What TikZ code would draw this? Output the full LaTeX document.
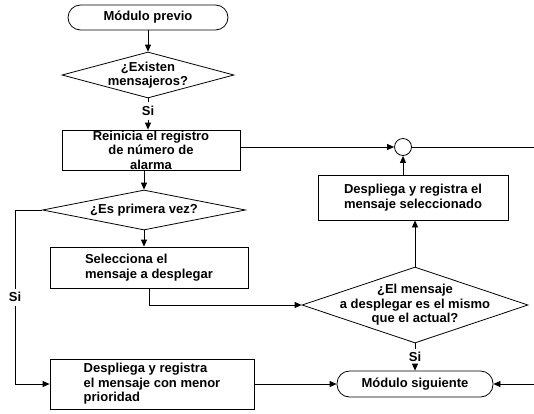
\documentclass[tikz,border=0pt]{standalone}
\usepackage{fontspec}
\setmainfont{Liberation Sans}
\usetikzlibrary{positioning, arrows.meta, shapes.geometric}

\begin{document}
\begin{tikzpicture}[x=1pt, y=-1pt, line width=0.8pt,
    font=\fontsize{13}{14.5}\selectfont\bfseries,
    caja/.style={draw, rectangle, inner sep=0pt},
    terminal/.style={draw, rectangle, rounded corners=12.5pt, inner sep=0pt},
    decision/.style={draw, diamond, inner sep=0pt},
    flecha/.style={-{Triangle[length=7pt, width=6pt]}}]

    \useasboundingbox (0,0) rectangle (534,413);

    % --- COLUMNA IZQUIERDA ---
    \node[terminal, minimum width=160, minimum height=25] (previo) at (148,17.5) {Módulo previo};
    \node[decision, minimum width=172, minimum height=46,
          label={[align=center]center:¿Existen\\mensajeros?}] (existen) at (148,75) {};
    \node (si1) at (148,111) {Si};
    \node[caja, minimum width=178, minimum height=40, align=center] (reinicia) at (151,150)
        {Reinicia el registro\\de número de\\alarma};
    \node[decision, minimum width=203, minimum height=40,
          label={center:¿Es primera vez?}] (primera) at (144,210) {};
    \node[caja, minimum width=198, minimum height=41, align=left] (selecciona) at (149,267.5)
        {Selecciona el\\mensaje a desplegar};
    \node (si2) at (15,297) {Si};
    \node[caja, minimum width=204, minimum height=50, align=left] (menor) at (152,384)
        {Despliega y registra\\el mensaje con menor\\prioridad};

    % --- COLUMNA DERECHA ---
    \node[circle, draw, minimum size=17, inner sep=0pt] (conector) at (403,147) {};
    \node[caja, minimum width=190, minimum height=45, align=left] (seleccionado) at (413,197.5)
        {Despliega y registra el\\mensaje seleccionado};
    \node[decision, minimum width=226, minimum height=76,
          label={[align=center]center:¿El mensaje\\a desplegar es el mismo\\que el actual?}] (mismo) at (415,305) {};
    \node (si3) at (415,357) {Si};
    \node[terminal, minimum width=156, minimum height=26] (siguiente) at (415,384) {Módulo siguiente};

    % Enlaces fuera de la hoja
    \coordinate (salida) at (534,147);
    \coordinate (entrada) at (534,384);

    % --- CONEXIONES ---
    \draw[flecha] (previo.south -| existen.north) -- (existen.north);
    \draw (existen.south) -- (si1.north);
    \draw[flecha] (si1.south) -- (si1.south |- reinicia.north);
    \draw[flecha] (reinicia.south -| primera.north) -- (primera.north);
    \draw[flecha] (primera.south) -- (primera.south |- selecciona.north);
    \draw (primera.west) -| (si2.north);
    \draw[flecha] (si2.south) |- (menor.west);
    \draw[flecha] (selecciona.south) |- (mismo.west);
    \draw[flecha] (mismo.north) -- (mismo.north |- seleccionado.south);
    \draw[flecha] (conector.south |- seleccionado.north) -- (conector.south);
    \draw[flecha] (reinicia.east |- conector) -- (conector.west);
    \draw (conector.east) -- (salida);
    \draw (mismo.south) -- (si3.north);
    \draw[flecha] (si3.south) -- (siguiente.north);
    \draw[flecha] (menor.east) -- (siguiente.west);
    \draw[flecha] (entrada) -- (siguiente.east);

\end{tikzpicture}
\end{document}
